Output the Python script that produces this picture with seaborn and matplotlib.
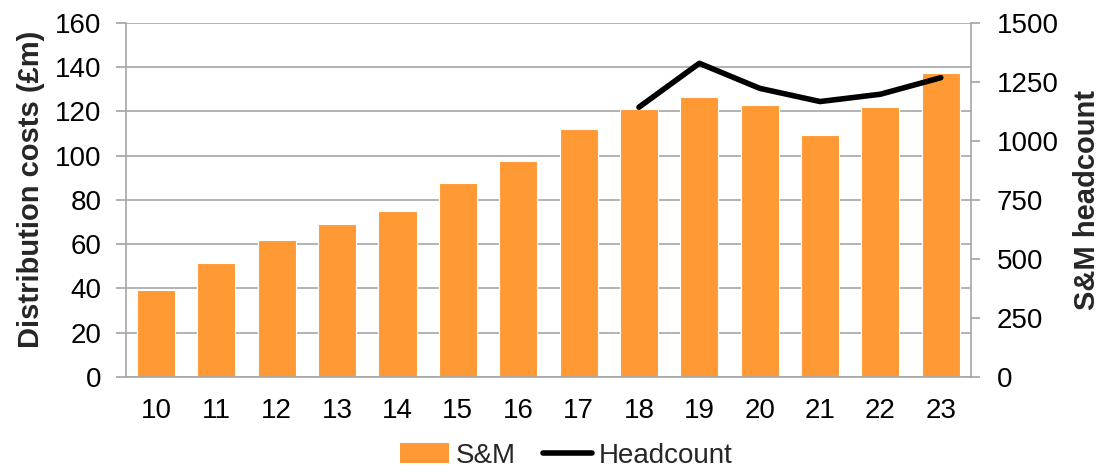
import numpy as np
import pandas as pd
import matplotlib
matplotlib.use('Agg')
import matplotlib.pyplot as plt
import seaborn as sns
from matplotlib.patches import Patch
from matplotlib.lines import Line2D

# data
years = ['10', '11', '12', '13', '14', '15', '16', '17', '18', '19', '20', '21', '22', '23']
sm_costs = [39.3, 51.7, 61.9, 69.0, 75.0, 87.5, 97.5, 112.2, 121.0, 126.4, 122.8, 109.5, 121.9, 137.2]
hc_years = ['18', '19', '20', '21', '22', '23']
headcount = [1143, 1329, 1223, 1167, 1198, 1268]

bar_color = '#FF9933'
grid_color = '#A6A6A6'
fs = 20

sns.set_theme(style='white')
plt.rcParams['font.family'] = ['Liberation Sans', 'DejaVu Sans']

df = pd.DataFrame({'year': years, 'cost': sm_costs})
hc = pd.DataFrame({'year': hc_years, 'headcount': headcount})
hc['pos'] = [years.index(y) for y in hc['year']]

fig = plt.figure(figsize=(11.04, 4.68), dpi=100)
ax = fig.add_axes([0.114, 0.1944, 0.7655, 0.7566])

sns.barplot(data=df, x='year', y='cost', color=bar_color, saturation=1,
            width=0.63, edgecolor='white', linewidth=0.8, ax=ax, zorder=2)
ax.set_ylim(0, 160)
ax.set_yticks(np.arange(0, 161, 20))
ax.set_xlim(-0.5, len(years) - 0.5)
ax.yaxis.grid(True, color=grid_color, linewidth=1.2, zorder=0)
ax.set_axisbelow(True)
ax.set_xlabel('')
ax.set_ylabel('Distribution costs (£m)', fontsize=21, fontweight='bold', labelpad=7)
ax.yaxis.label.set_y(0.53)
ax.tick_params(axis='both', labelsize=fs, colors='black')
ax.tick_params(axis='y', length=7.5, color=grid_color, direction='out', left=True, pad=10)
ax.tick_params(axis='x', length=0, pad=15)
for side in ['top', 'right']:
    ax.spines[side].set_visible(False)
for side in ['left', 'bottom']:
    ax.spines[side].set_color(grid_color)
    ax.spines[side].set_linewidth(1.2)

ax2 = ax.twinx()
sns.lineplot(data=hc, x='pos', y='headcount', color='black', linewidth=4,
             ax=ax2, solid_capstyle='round')
ax2.set_ylim(0, 1500)
ax2.set_yticks(np.arange(0, 1501, 250))
ax2.set_xlim(-0.5, len(years) - 0.5)
ax2.set_ylabel('S&M headcount', fontsize=21, fontweight='bold', labelpad=10)
ax2.set_xlabel('')
ax2.tick_params(axis='y', labelsize=fs, labelcolor='black', length=6.5, color=grid_color,
                direction='out', right=True, pad=12)
for side in ['top', 'left', 'bottom']:
    ax2.spines[side].set_visible(False)
ax2.spines['right'].set_color(grid_color)
ax2.spines['right'].set_linewidth(1.2)

handles = [Patch(facecolor=bar_color, edgecolor='none'),
           Line2D([0], [0], color='black', linewidth=4, solid_capstyle='round')]
fig.legend(handles, ['S&M', 'Headcount'], loc='lower center', bbox_to_anchor=(0.513, -0.055),
           ncol=2, frameon=False, fontsize=fs, handlelength=1.75, handletextpad=0.25,
           columnspacing=1.0)

fig.savefig('out.png', dpi=100)
